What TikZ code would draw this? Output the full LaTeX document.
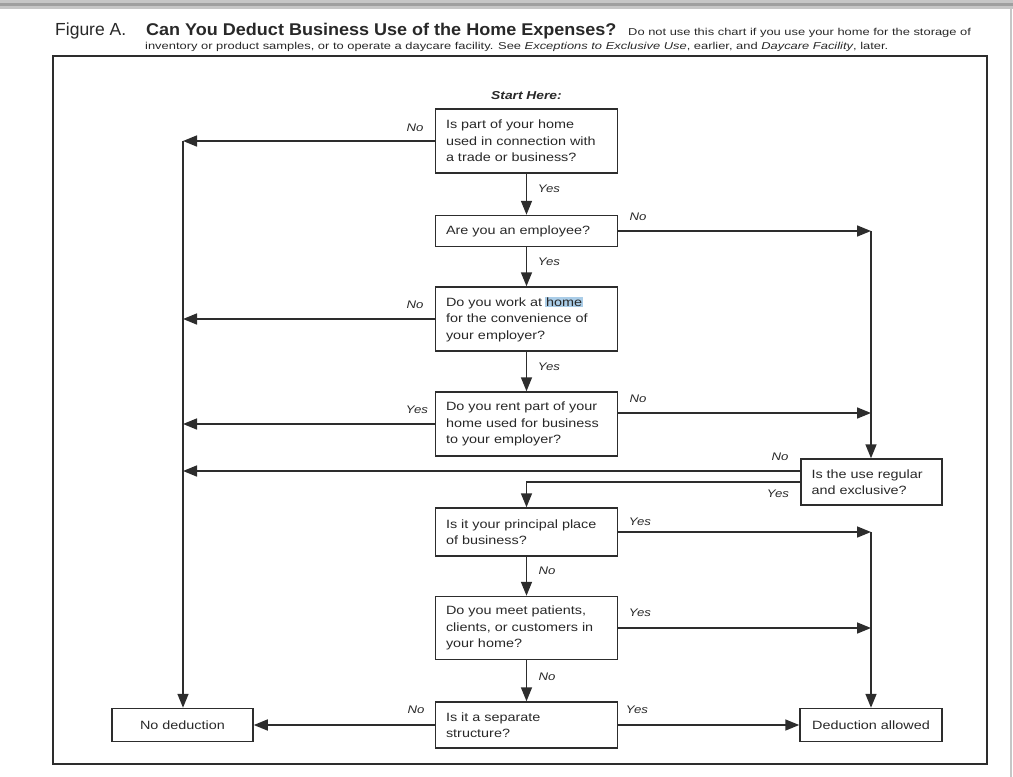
\documentclass[tikz,border=0pt]{standalone}
\usepackage{fontspec}
\setmainfont{Liberation Sans}[FakeStretch=1.2]
\newfontfamily\condfont{Liberation Sans}
\newfontfamily\titlefont{Liberation Sans}[FakeStretch=1.06]
\newfontfamily\subfont{Liberation Sans}[FakeStretch=1.29]
\usetikzlibrary{arrows.meta}
\definecolor{ln}{RGB}{45,45,45}
\definecolor{tx}{RGB}{40,40,40}
\definecolor{hl}{RGB}{170,205,232}
\tikzset{
  q/.style={draw=ln, line width=1.5pt, text width=161pt, inner xsep=10.5pt, inner ysep=0pt,
    align=left, font=\fontsize{12}{16.5}\selectfont, text=tx},
  endbox/.style={draw=ln, line width=1.5pt, minimum width=141pt, minimum height=33pt, inner sep=0pt,
    align=center, font=\fontsize{12}{16.5}\selectfont, text=tx},
  lab/.style={font=\itshape\fontsize{11}{13}\selectfont, text=tx, inner sep=0pt},
  ar/.style={draw=ln, line width=1.6pt, -{Triangle[length=14pt,width=11pt]}},
}
\begin{document}
\begin{tikzpicture}[x=1pt,y=-1pt]
\useasboundingbox (0,0) rectangle (1013,777);
% screen artefacts
\fill[gray!45] (0,0) rectangle (1013,9);
\fill[gray!75] (0,3) rectangle (1013,6);
\draw[gray!45, line width=1.5pt] (1011,9) -- (1011,777);
% title
\node[anchor=base west, inner sep=0pt, font=\condfont\fontsize{17.5}{20}\selectfont, text=tx] (fig) at (55,35) {Figure A.};
\node[anchor=base west, inner sep=0pt, font=\titlefont\bfseries\fontsize{17}{20}\selectfont, text=tx] (tt) at (146,35) {Can You Deduct Business Use of the Home Expenses?};
\node[anchor=base west, inner sep=0pt, font=\subfont\fontsize{10}{12}\selectfont, text=tx] (st1) at (628,35) {Do not use this chart if you use your home for the storage of};
\node[anchor=base west, inner sep=0pt, font=\subfont\fontsize{10}{12}\selectfont, text=tx] (st2) at (145,49.5) {inventory or product samples, or to operate a daycare facility. See \textit{Exceptions to Exclusive Use}, earlier, and \textit{Daycare Facility}, later.};
% frame
\draw[ln, line width=1.6pt] (53,56) rectangle (987,764);
% coordinates of the two rails
\coordinate (lv) at (183,0);
\coordinate (rv) at (871,0);
% start
\node[font=\bfseries\itshape\fontsize{11.5}{13}\selectfont, text=tx] (start) at (526.5,96) {Start Here:};
% question boxes
\node[q, minimum height=64pt] (b1) at (526.5,141) {Is part of your home\\used in connection with\\a trade or business?};
\node[q, minimum height=31pt] (b2) at (526.5,231) {Are you an employee?};
\node[q, minimum height=64pt] (b3) at (526.5,319) {Do you work at {\setlength{\fboxsep}{0.8pt}\hspace{-0.8pt}\colorbox{hl}{home}\hspace{-0.8pt}}\\for the convenience of\\your employer?};
\node[q, minimum height=64pt] (b4) at (526.5,424) {Do you rent part of your\\home used for business\\to your employer?};
\node[q, text width=120pt, minimum height=46pt] (reg) at (871.5,482) {Is the use regular\\and exclusive?};
\node[q, minimum height=48pt] (b5) at (526.5,532) {Is it your principal place\\of business?};
\node[q, minimum height=63pt] (b6) at (526.5,628) {Do you meet patients,\\clients, or customers in\\your home?};
\node[q, minimum height=46pt] (b7) at (526.5,725) {Is it a separate\\structure?};
\node[endbox] (nd) at (182.5,725) {No deduction};
\node[endbox, minimum width=142pt] (da) at (871,725) {Deduction allowed};
% connectors
\draw[ar] (b1.south) -- (b2.north);
\draw[ar] (b2.south) -- (b3.north);
\draw[ar] (b3.south) -- (b4.north);
\draw[ar] (b5.south) -- (b6.north);
\draw[ar] (b6.south) -- (b7.north);
\draw[ar] (b1.west) -- (b1.west -| lv);
\draw[ar] (b1.west -| lv) -- (nd.north -| lv);
\draw[ar] (b3.west) -- (b3.west -| lv);
\draw[ar] (b4.west) -- (b4.west -| lv);
\draw[ar] ([yshift=11pt]reg.west) -- ([yshift=11pt]reg.west -| lv);
\draw[ar] (b2.east) -- (b2.east -| rv);
\draw[ar] (b2.east -| rv) -- (reg.north -| rv);
\draw[ar] ([yshift=11pt]b4.east) -- ([yshift=11pt]b4.east -| rv);
\draw[ar] (reg.west) -- (reg.west -| b5.north) -- (b5.north);
\draw[ar] (b5.east) -- (b5.east -| rv);
\draw[ar] (b5.east -| rv) -- (da.north -| rv);
\draw[ar] (b6.east) -- (b6.east -| rv);
\draw[ar] (b7.east) -- (da.west);
\draw[ar] (b7.west) -- (nd.east);
% labels
\node[lab] (l1) at (415,128) {No};
\node[lab] (l2) at (549,189) {Yes};
\node[lab] (l3) at (638,217) {No};
\node[lab] (l4) at (549,262) {Yes};
\node[lab] (l5) at (415,305) {No};
\node[lab] (l6) at (549,367) {Yes};
\node[lab] (l7) at (417,410) {Yes};
\node[lab] (l8) at (638,399) {No};
\node[lab] (l9) at (780,457) {No};
\node[lab] (l10) at (778,494) {Yes};
\node[lab] (l11) at (640,522) {Yes};
\node[lab] (l12) at (547,571) {No};
\node[lab] (l13) at (640,613) {Yes};
\node[lab] (l14) at (547,677) {No};
\node[lab] (l15) at (416,710) {No};
\node[lab] (l16) at (637,710) {Yes};
\end{tikzpicture}
\end{document}
